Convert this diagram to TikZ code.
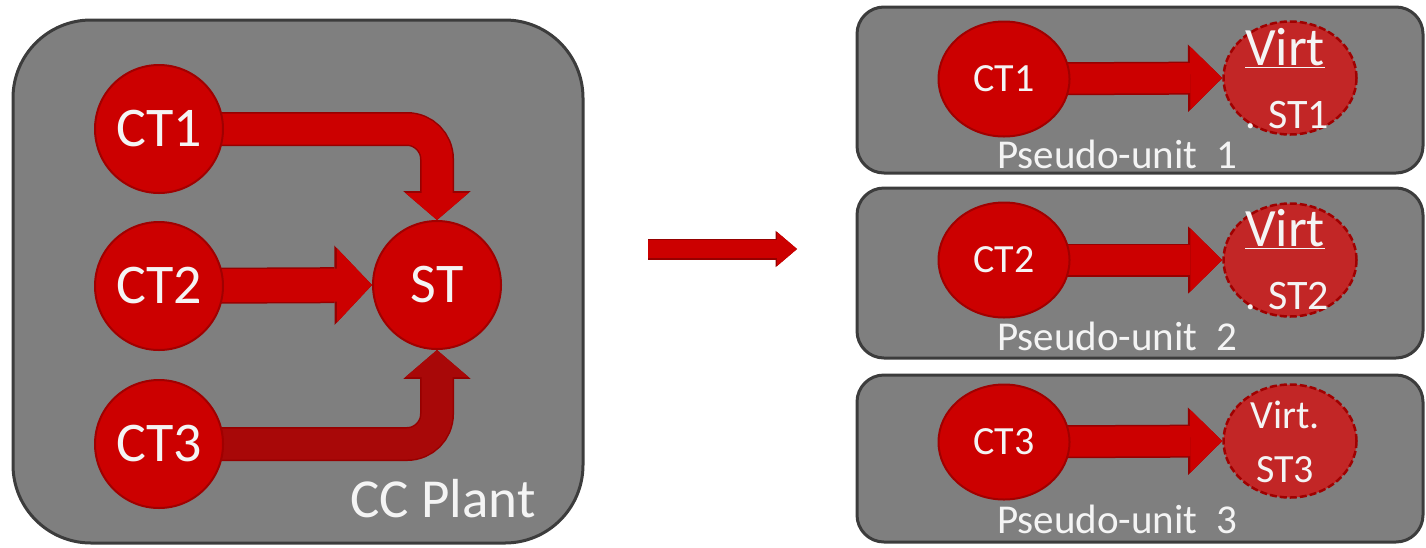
\documentclass[tikz,border=0pt]{standalone}
\usepackage{fontspec}
\setmainfont{Carlito}
\usetikzlibrary{arrows.meta,shapes.geometric,calc}

\definecolor{panelgray}{HTML}{7F7F7F}
\definecolor{paneledge}{HTML}{3C3C3C}
\definecolor{unitred}{HTML}{CC0000}
\definecolor{unitedge}{HTML}{A00000}
\definecolor{flowred}{HTML}{CC0000}
\definecolor{flowedge}{HTML}{960000}
\definecolor{flowdark}{HTML}{A80808}
\definecolor{virtred}{HTML}{C22626}
\definecolor{labelwhite}{HTML}{F4F4F4}

\newcommand\labelsize[1]{\fontsize{#1}{#1}\selectfont}

\pgfdeclarelayer{panels}
\pgfdeclarelayer{flows}
\pgfsetlayers{panels,flows,main}

\tikzset{
  panel/.style={draw=paneledge, line width=3pt, fill=panelgray,
    rectangle, inner sep=0pt},
  unit/.style={circle, fill=unitred, draw=unitedge, line width=2pt,
    inner sep=0pt, minimum size=128pt, text=labelwhite, font=\labelsize{56}},
  smallunit/.style={ellipse, fill=unitred, draw=unitedge, line width=2pt,
    inner sep=0pt, minimum width=131pt, minimum height=115pt,
    text=labelwhite, font=\labelsize{40}},
  virtunit/.style={ellipse, fill=virtred, draw=unitedge, line width=2.5pt,
    dash pattern=on 7pt off 3pt, inner sep=0pt,
    minimum width=133pt, minimum height=113pt},
  lbl/.style={text=labelwhite, inner sep=0pt, anchor=base},
  % block arrow: shaft width, head width, head length, colour
  flow/.style n args={4}{line width=#1, draw=#4,
    -{Triangle[width=#2,length=#3,line width=0pt]},
    preaction={draw=flowedge, line width=#1+3pt,
      -{Triangle[width=#2,length=#3,line width=0pt,scale=1.07]}}},
}

\begin{document}
\begin{tikzpicture}[x=1pt,y=-1pt]
\useasboundingbox (0,0) rectangle (1426,547);

% ---- combined-cycle plant ----
\begin{pgfonlayer}{panels}
  \node[panel, rounded corners=78pt, minimum width=570pt, minimum height=523pt]
    (plant) at (298,281.5) {};
  \node[panel, rounded corners=27pt, minimum width=566pt, minimum height=166pt]
    (pu1) at (1140,90) {};
  \node[panel, rounded corners=27pt, minimum width=566pt, minimum height=170pt]
    (pu2) at (1140,273) {};
  \node[panel, rounded corners=27pt, minimum width=566pt, minimum height=167pt]
    (pu3) at (1140,458.5) {};
\end{pgfonlayer}

\node[unit] (ct1) at (159,129) {CT1};
\node[unit] (ct2) at (159,286) {CT2};
\node[unit] (ct3) at (159,444) {CT3};
\node[unit] (st)  at (437,285) {ST};

\node[lbl, font=\labelsize{55}] (plantname) at (443,517) {CC Plant};

\begin{pgfonlayer}{flows}
  \draw[flow={31pt}{63pt}{27pt}{flowred}, rounded corners=30pt]
    (ct1.center) -| (st.north);
  \draw[flow={33pt}{74pt}{35pt}{flowred}]
    (ct2.center) -- (st.west);
  \draw[flow={31pt}{63pt}{27pt}{flowdark}, rounded corners=30pt]
    (ct3.center) -| (st.south);
\end{pgfonlayer}

% ---- transformation arrow ----
\coordinate (gofrom) at (648,249);
\coordinate (goto) at (797,249);
\draw[flow={18pt}{34pt}{20pt}{flowred}] (gofrom) -- (goto);

% ---- pseudo-units ----
\node[smallunit] (c1) at (1004,79)  {CT1};
\node[smallunit] (c2) at (1004,260) {CT2};
\node[smallunit] (c3) at (1004,442) {CT3};
\node[virtunit] (v1) at (1290,78)  {};
\node[virtunit] (v2) at (1290,260) {};
\node[virtunit] (v3) at (1290,441) {};

\begin{pgfonlayer}{flows}
  \draw[flow={30pt}{63pt}{32pt}{flowred}] (c1.center) -- (v1.west);
  \draw[flow={30pt}{63pt}{32pt}{flowred}] (c2.center) -- (v2.west);
  \draw[flow={30pt}{63pt}{32pt}{flowred}] (c3.center) -- (v3.west);
\end{pgfonlayer}

\node[lbl, font=\labelsize{54}] (v1a) at (1285,65)  {\underline{Virt}};
\node[lbl, font=\labelsize{42}] (v1b) at (1287,128) {. ST1};
\node[lbl, font=\labelsize{54}] (v2a) at (1285,246) {\underline{Virt}};
\node[lbl, font=\labelsize{42}] (v2b) at (1287,309) {. ST2};
\node[lbl, font=\labelsize{40}] (v3a) at (1285,428) {Virt.};
\node[lbl, font=\labelsize{40}] (v3b) at (1285,482) {ST3};

\node[lbl, font=\labelsize{41}] (pn1) at (1117,168) {Pseudo-unit\ \ 1};
\node[lbl, font=\labelsize{41}] (pn2) at (1117,350) {Pseudo-unit\ \ 2};
\node[lbl, font=\labelsize{41}] (pn3) at (1117,533) {Pseudo-unit\ \ 3};
\end{tikzpicture}
\end{document}
